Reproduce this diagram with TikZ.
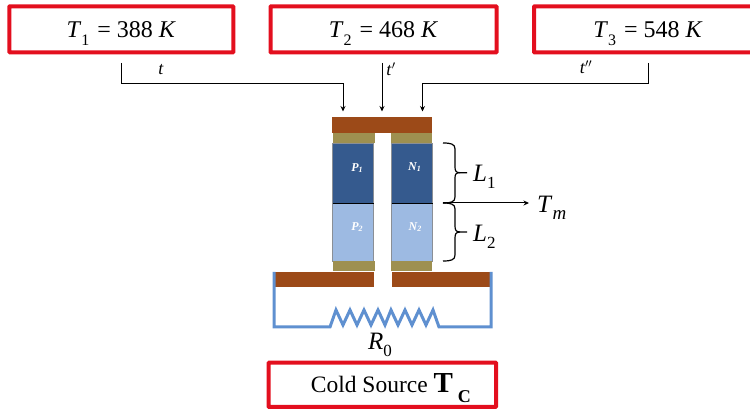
\documentclass[tikz,border=0pt]{standalone}
\usepackage{fontspec}
\setmainfont{Liberation Serif}
\usetikzlibrary{arrows.meta}
\newcommand{\mv}[1]{\textit{#1}}
\newcommand{\sbs}[1]{\raisebox{-0.3em}{\fontsize{16}{16}\selectfont #1}}
\newcommand{\tempeq}[2]{\raisebox{-8.7pt}[0pt][0pt]{\mv{T}\sbs{#1}\hspace{2pt} = #2 \mv{K}}}
\definecolor{redbox}{HTML}{E30F1E}
\definecolor{copper}{HTML}{9C4A18}
\definecolor{olive}{HTML}{9E9050}
\definecolor{darkblue}{HTML}{355A8E}
\definecolor{lightblue}{HTML}{9DBAE2}
\definecolor{wire}{HTML}{5F90D0}
\definecolor{edgegrey}{HTML}{8A8F96}
\tikzset{
  x=1pt,y=-1pt,
  tempbox/.style={draw=redbox,line width=4pt,rounded corners=0.6pt,anchor=north west,inner sep=0pt,outer sep=0pt,font=\fontsize{24}{26}\selectfont},
  block/.style={anchor=north west,inner sep=0pt,outer sep=0pt,draw=edgegrey,line width=0.8pt},
  conn/.style={black,line width=1pt,-{Stealth[length=5.5pt,width=5pt]}},
  brace/.style={black,line width=1.2pt},
  wirestyle/.style={wire,line width=3pt,line join=miter},
  lab/.style={inner sep=0pt,font=\fontsize{#1}{#1}\selectfont},
  leg/.style={inner sep=0pt,text=white,font=\fontsize{12}{12}\selectfont\bfseries\itshape},
}
\begin{document}
\begin{tikzpicture}
\useasboundingbox (0,0) rectangle (750,411);
\clip (0,0) rectangle (750,411);
% temperature boxes
\node[tempbox,minimum width=224pt,minimum height=46pt] (b1) at (9.3,6.3) {\tempeq{1}{388}};
\node[tempbox,minimum width=226pt,minimum height=46pt] (b2) at (270.5,6.3) {\tempeq{2}{468}};
\node[tempbox,minimum width=228pt,minimum height=46pt] (b3) at (534,6.3) {\tempeq{3}{548}};
\node[tempbox,minimum width=227.3pt,minimum height=44.3pt] (cold) at (268.7,362.7) {\raisebox{-8pt}[0pt][0pt]{\hspace*{17pt}\fontsize{23.5}{24}\selectfont Cold Source \fontsize{29}{29}\selectfont\textbf{T}\,\raisebox{-0.34em}{\fontsize{18}{18}\selectfont\textbf{C}}}};
% thermoelectric legs
\node[block,draw=none,fill=copper,minimum width=100pt,minimum height=16pt] (top) at (332,117.5) {};
\node[block,draw=none,fill=olive,minimum width=42pt,minimum height=10pt] (ol1) at (332.5,133) {};
\node[block,draw=none,fill=olive,minimum width=41pt,minimum height=10pt] (ol2) at (391,133) {};
\node[block,fill=darkblue,minimum width=41pt,minimum height=60pt] (p1) at (332.5,143) {};
\node[block,fill=darkblue,minimum width=41pt,minimum height=60pt] (n1) at (391.5,143) {};
\node[block,fill=lightblue,minimum width=41pt,minimum height=58pt] (p2) at (332.5,203) {};
\node[block,fill=lightblue,minimum width=41pt,minimum height=58pt] (n2) at (391.5,203) {};
\draw[black,line width=0.7pt] (p1.south west) -- (p1.south east);
\draw[black,line width=0.7pt] (n1.south west) -- (n1.south east);
\node[block,draw=none,fill=olive,minimum width=42pt,minimum height=10pt] (ol3) at (332.5,261) {};
\node[block,draw=none,fill=olive,minimum width=41pt,minimum height=10pt] (ol4) at (391,261) {};
\node[leg] (lp1) at (357,168) {P\raisebox{-0.15em}{\fontsize{8}{8}\selectfont 1}};
\node[leg] (ln1) at (414.5,167) {N\raisebox{-0.15em}{\fontsize{8}{8}\selectfont 1}};
\node[leg] (lp2) at (357,227) {P\raisebox{-0.15em}{\fontsize{8}{8}\selectfont 2}};
\node[leg] (ln2) at (415,227) {N\raisebox{-0.15em}{\fontsize{8}{8}\selectfont 2}};
% bottom copper
\node[block,draw=none,fill=copper,minimum width=99pt,minimum height=15.5pt] (cl) at (275,272) {};
\node[block,draw=none,fill=copper,minimum width=98pt,minimum height=15.5pt] (cr) at (392,272) {};
% wire with resistor
\coordinate (wl) at (274,272);
\coordinate (wr) at (491,272);
\draw[wirestyle] (wl) -- (274,327) -- (330,327) -- (336,310) -- (343,325) -- (350,310) -- (357,325) -- (364,310) -- (371,325) -- (378,310) -- (385,325) -- (391,310) -- (398,325) -- (405,310) -- (412,325) -- (419,310) -- (426,325) -- (433,310) -- (439,327) -- (491,327) -- (wr);
% connectors
\coordinate (c1) at (121,63);
\coordinate (c2) at (382,63);
\coordinate (c3) at (648,63);
\coordinate (a1) at (343,111.5);
\coordinate (a2) at (382,111.5);
\coordinate (a3) at (422.5,111.5);
\draw[conn] (c1) |- (343,84) -- (a1);
\draw[conn] (c2) -- (a2);
\draw[conn] (c3) |- (422.5,84) -- (a3);
\node[lab=18] (lt1) at (161,70) {\mv{t}};
\node[lab=18] (lt2) at (391,69) {\mv{t}$'$};
\node[lab=18] (lt3) at (586,67) {\mv{t}$''$};
% braces
\draw[brace] (443,143) .. controls (451,143) and (455,144) .. (455,149) -- (455,167) .. controls (455,171) and (456,172.7) .. (460,172.7) -- (467,172.7);
\draw[brace] (443,203) .. controls (451,203) and (455,202) .. (455,197) -- (455,178) .. controls (455,174) and (456,172.7) .. (460,172.7);
\draw[brace] (443,261) .. controls (451,261) and (455,260) .. (455,255) -- (455,238) .. controls (455,234) and (456,232) .. (460,232) -- (467,232);
\draw[brace] (443,203) .. controls (451,203) and (455,204) .. (455,209) -- (455,226) .. controls (455,230) and (456,232) .. (460,232);
\coordinate (bs) at (443,203);
\coordinate (be) at (529,203);
\draw[conn] (bs) -- (be);
\node[lab=25,anchor=west] (tm) at (537,208) {\mv{T}\raisebox{-0.3em}{\fontsize{19}{19}\selectfont\mv{m}}};
\node[lab=25,anchor=west] (l1) at (473,177) {\mv{L}\raisebox{-0.3em}{\fontsize{17}{17}\selectfont 1}};
\node[lab=25,anchor=west] (l2) at (473,237) {\mv{L}\raisebox{-0.3em}{\fontsize{17}{17}\selectfont 2}};
\node[lab=25,anchor=west] (r0) at (368,345) {\mv{R}\raisebox{-0.3em}{\fontsize{17}{17}\selectfont 0}};
\end{tikzpicture}
\end{document}
